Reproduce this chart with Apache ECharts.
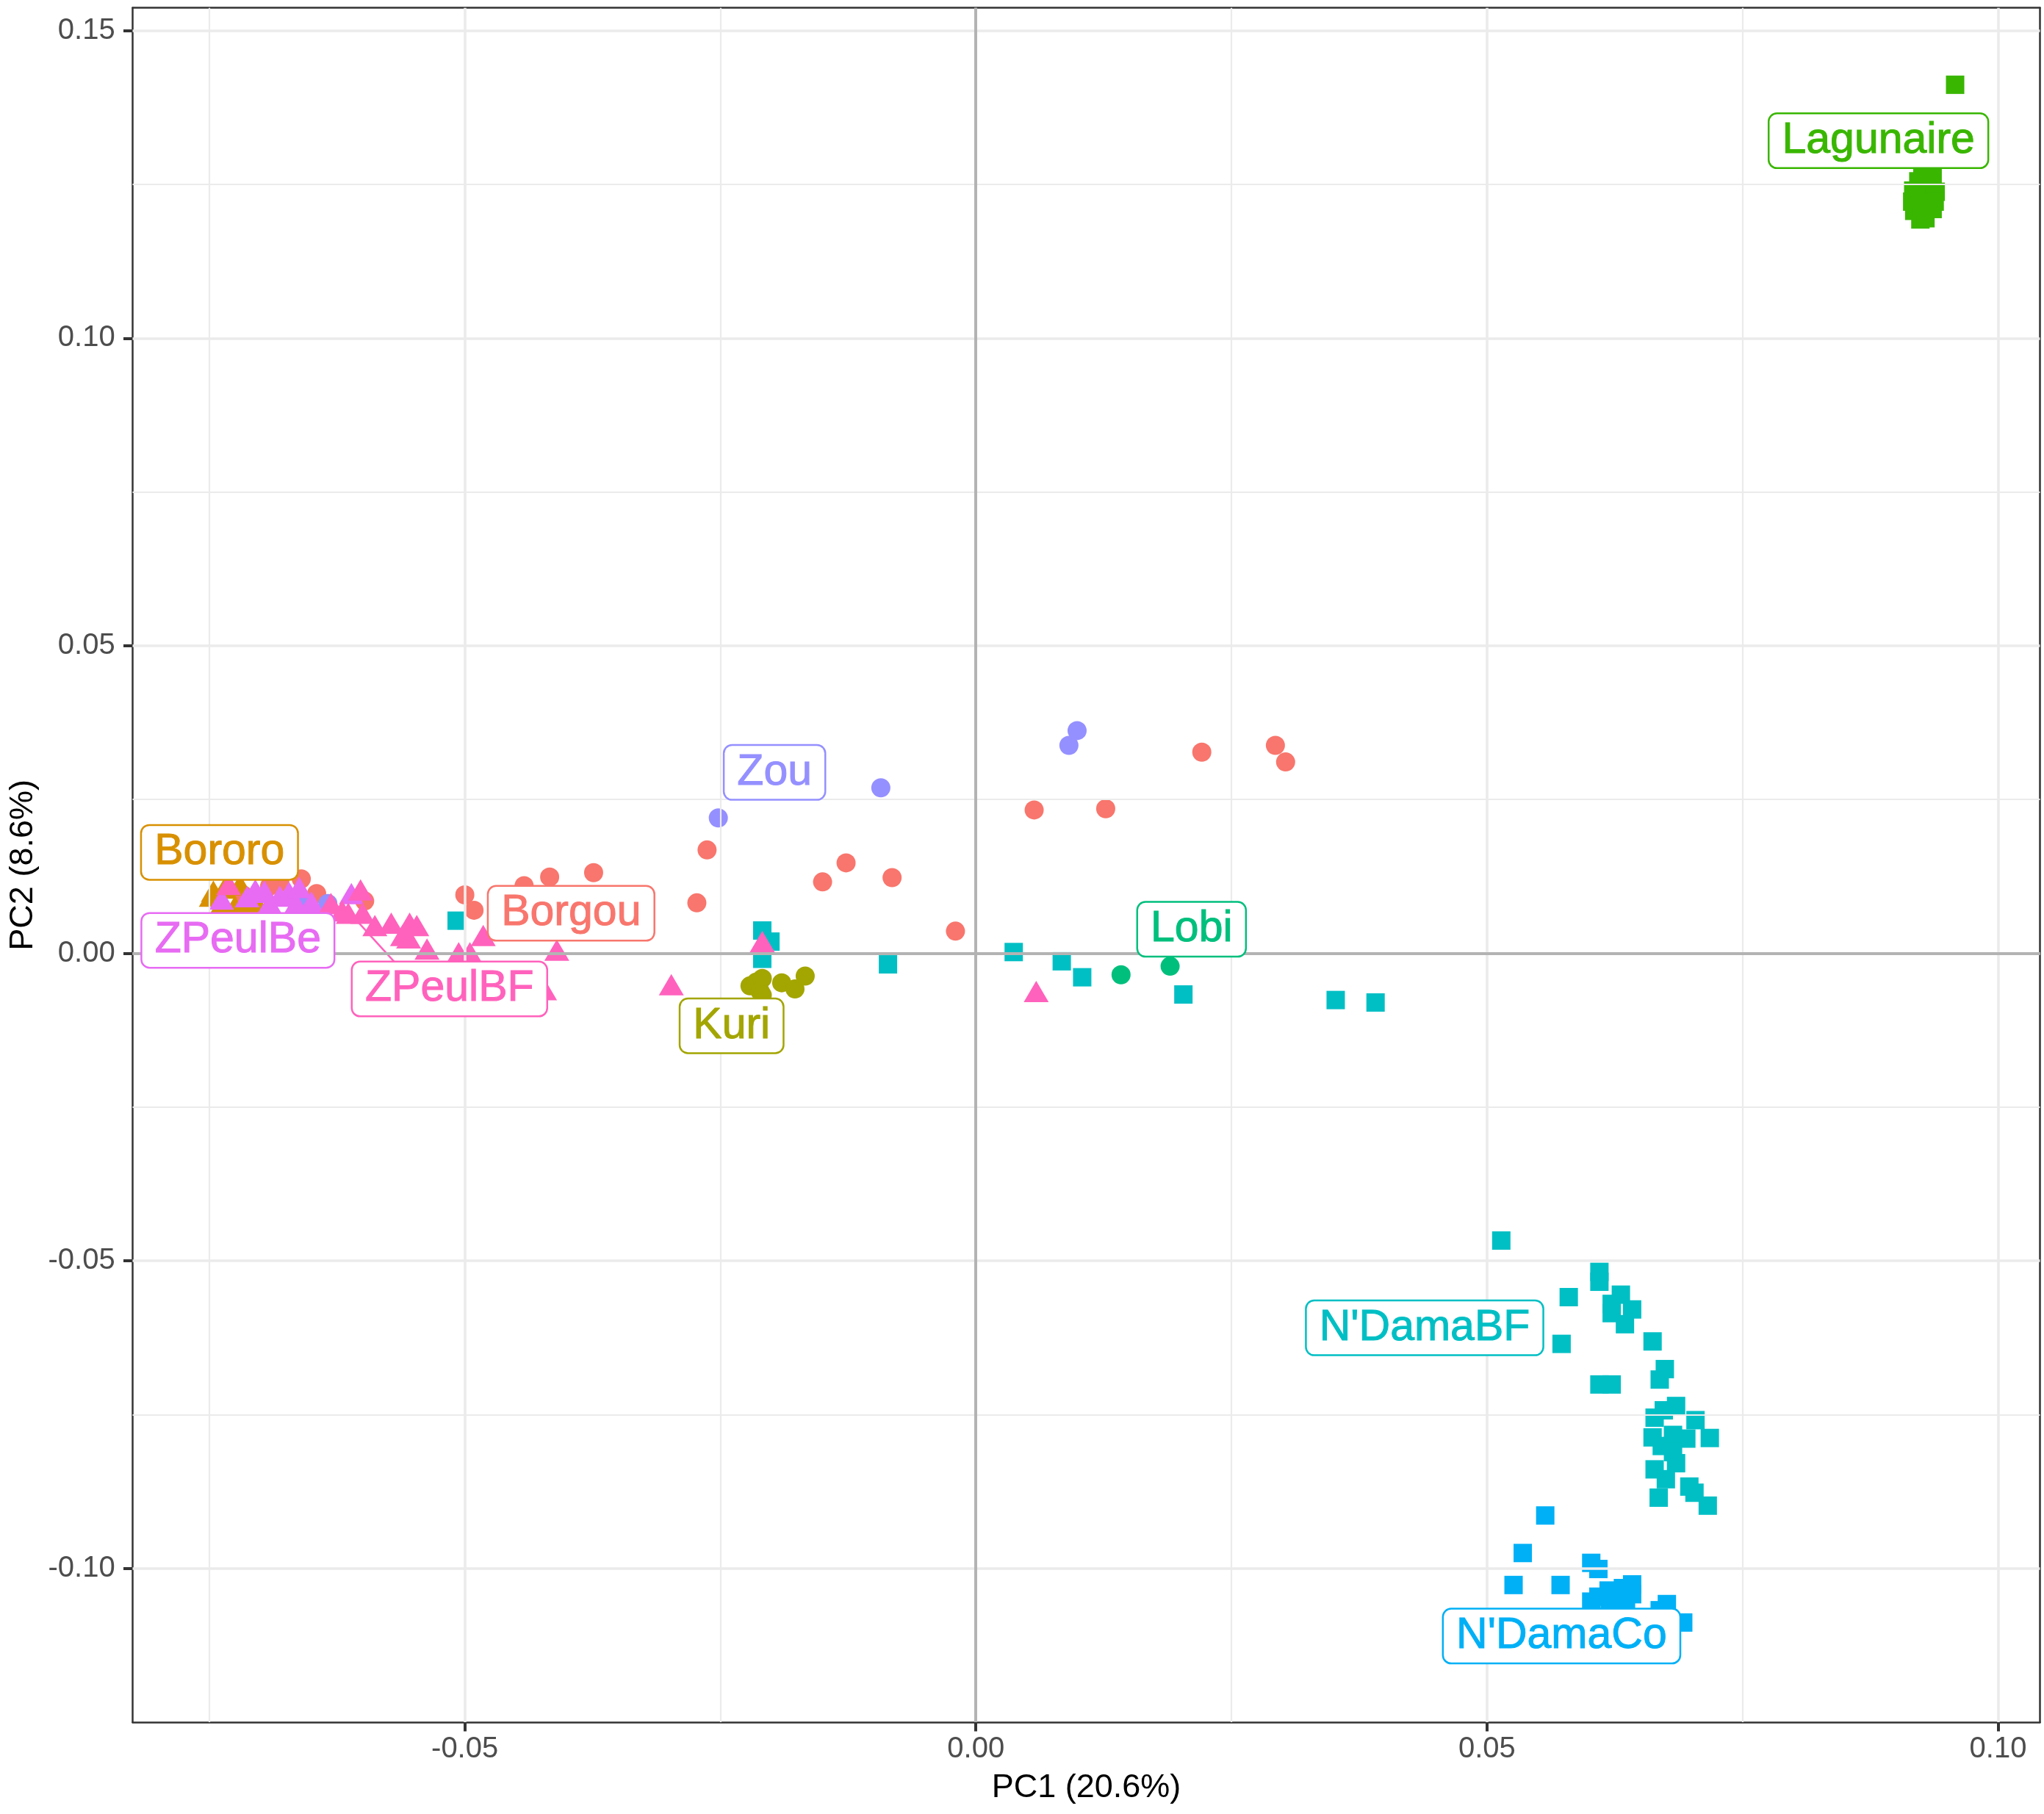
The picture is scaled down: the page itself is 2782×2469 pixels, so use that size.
<!DOCTYPE html>
<html>
<head>
<meta charset="utf-8">
<script src="https://cdn.jsdelivr.net/npm/echarts@6/dist/echarts.min.js"></script>
<style>
  body { margin: 0; background: #fff; }
  #main { width: 2782px; height: 2469px; }
</style>
</head>
<body>
<div id="main"></div>
<script>
// groups, in ggplot's hue order
var groups = ['Borgou', 'Bororo', 'Kuri', 'Lagunaire', 'Lobi', "N'DamaBF", "N'DamaCo", 'Zou', 'ZPeulBe', 'ZPeulBF']
var colors = ['#F8766D', '#D89000', '#A3A500', '#39B600', '#00BF7D', '#00BFC4', '#00B0F6', '#9590FF', '#E76BF3', '#FF62BC']
var shapes = ['circle', 'triangle', 'circle', 'rect', 'circle', 'rect', 'rect', 'circle', 'triangle', 'triangle']

// [PC1, PC2] per individual
var borgou = [[-0.0660, 0.0121], [-0.0681, 0.0115], [-0.0717, 0.0095], [-0.0645, 0.0097], [-0.0598, 0.0085],
  [-0.0691, 0.0109], [-0.0500, 0.0095], [-0.0491, 0.0070], [-0.0442, 0.0110], [-0.0417, 0.0124],
  [-0.0374, 0.0131], [-0.0273, 0.0082], [-0.0263, 0.0168], [-0.0150, 0.0116], [-0.0127, 0.0147],
  [-0.0082, 0.0123], [-0.0020, 0.0036], [0.0057, 0.0233], [0.0127, 0.0235], [0.0221, 0.0327],
  [0.0293, 0.0338], [0.0303, 0.0311]]
var bororo = [[-0.0748, 0.0093], [-0.0725, 0.0076], [-0.0720, 0.0111], [-0.0735, 0.0106], [-0.0712, 0.0077],
  [-0.0738, 0.0079], [-0.0746, 0.0101], [-0.0703, 0.0080]]
var kuri = [[-0.0221, -0.0053], [-0.0215, -0.0047], [-0.0209, -0.0041], [-0.0211, -0.0062], [-0.0209, -0.0068],
  [-0.0190, -0.0048], [-0.0177, -0.0058], [-0.0167, -0.0037]]
var lagunaire = [[0.0958, 0.1412], [0.0917, 0.1240], [0.0916, 0.1222], [0.0918, 0.1207], [0.0924, 0.1193],
  [0.0929, 0.1195], [0.0925, 0.1215], [0.0930, 0.1230], [0.0935, 0.1245], [0.0939, 0.1238],
  [0.0938, 0.1222], [0.0936, 0.1210], [0.0922, 0.1255], [0.0928, 0.1262], [0.0934, 0.1260],
  [0.0920, 0.1230], [0.0933, 0.1218], [0.0926, 0.1268], [0.0936, 0.1266]]
var lobi = [[0.0142, -0.0035], [0.0190, -0.0021]]
var ndamaBF = [[-0.0508, 0.0053], [-0.0209, 0.0037], [-0.0201, 0.0019], [-0.0209, -0.0009], [-0.0086, -0.0018],
  [0.0037, 0.0002], [0.0084, -0.0013], [0.0104, -0.0039], [0.0203, -0.0067], [0.0352, -0.0076],
  [0.0391, -0.0080],
  [0.0514, -0.0467], [0.0610, -0.0518], [0.0610, -0.0534], [0.0580, -0.0559], [0.0631, -0.0555],
  [0.0622, -0.0570], [0.0622, -0.0585], [0.0642, -0.0579], [0.0635, -0.0603], [0.0573, -0.0635],
  [0.0662, -0.0631], [0.0674, -0.0676], [0.0669, -0.0693], [0.0610, -0.0701], [0.0622, -0.0701],
  [0.0685, -0.0736], [0.0673, -0.0743], [0.0664, -0.0755], [0.0704, -0.0759], [0.0662, -0.0787],
  [0.0682, -0.0783], [0.0695, -0.0789], [0.0718, -0.0788], [0.0671, -0.0801], [0.0682, -0.0811],
  [0.0685, -0.0829], [0.0664, -0.0839], [0.0675, -0.0855], [0.0698, -0.0867], [0.0668, -0.0885],
  [0.0703, -0.0877], [0.0716, -0.0898]]
var ndamaCo = [[0.0557, -0.0914], [0.0535, -0.0975], [0.0526, -0.1027], [0.0572, -0.1027], [0.0602, -0.0991],
  [0.0609, -0.1001], [0.0619, -0.1036], [0.0609, -0.1046], [0.0633, -0.1032], [0.0642, -0.1026],
  [0.0642, -0.1042], [0.0602, -0.1054], [0.0636, -0.1062], [0.0676, -0.1058], [0.0669, -0.1068],
  [0.0692, -0.1088], [0.0620, -0.1055], [0.0628, -0.1050]]
var zou = [[-0.0634, 0.0081], [-0.0660, 0.0087], [-0.0252, 0.0220], [-0.0093, 0.0269], [0.0091, 0.0338],
  [0.0099, 0.0362]]
var zpeulBe = [[-0.0738, 0.0088], [-0.0704, 0.0099], [-0.0696, 0.0101], [-0.0681, 0.0093], [-0.0672, 0.0099],
  [-0.0662, 0.0107], [-0.0650, 0.0083], [-0.0713, 0.0092], [-0.0611, 0.0097], [-0.0691, 0.0081],
  [-0.0665, 0.0081], [-0.0705, 0.0103]]
var zpeulBF = [[-0.0731, 0.0112], [-0.0602, 0.0103], [-0.0631, 0.0081], [-0.0614, 0.0065], [-0.0600, 0.0065],
  [-0.0620, 0.0069], [-0.0588, 0.0045], [-0.0572, 0.0049], [-0.0554, 0.0049], [-0.0547, 0.0045],
  [-0.0561, 0.0029], [-0.0555, 0.0025], [-0.0537, 0.0007], [-0.0495, 0.0001], [-0.0506, 0.0001],
  [-0.0482, 0.0029], [-0.0410, 0.0005], [-0.0422, -0.0059], [-0.0298, -0.0051], [-0.0209, 0.0019],
  [0.0059, -0.0062]]

var groupData = [borgou, bororo, kuri, lagunaire, lobi, ndamaBF, ndamaCo, zou, zpeulBe, zpeulBF]

// repelled label centres, and the one leader segment (ZPeulBF)
var labelX = [-0.0396, -0.0740, -0.0239, 0.0883, 0.0211, 0.0439, 0.0573, -0.0197, -0.0722, -0.0515]
var labelY = [0.0065, 0.0164, -0.0118, 0.1321, 0.0039, -0.0609, -0.1110, 0.0294, 0.0021, -0.0058]
var zpeulBFSegment = [[-0.0604, 0.0050], [-0.0569, -0.0014]]

// axis ticks and grid
var xTicks = [-0.05, 0, 0.05, 0.10]
var yTicks = [-0.10, -0.05, 0, 0.05, 0.10, 0.15]
var xMinor = [-0.075, -0.025, 0.025, 0.075]
var yMinor = [-0.075, -0.025, 0.025, 0.075, 0.125]

var FONT = "'Liberation Sans', Arial, Helvetica, sans-serif"

var gridLines = []
xMinor.forEach(function (v) { gridLines.push({ xAxis: v, lineStyle: { color: '#EBEBEB', width: 2.2, type: 'solid' } }) })
yMinor.forEach(function (v) { gridLines.push({ yAxis: v, lineStyle: { color: '#EBEBEB', width: 2.2, type: 'solid' } }) })
xTicks.forEach(function (v) { gridLines.push({ xAxis: v, lineStyle: { color: '#EBEBEB', width: 3.6, type: 'solid' } }) })
yTicks.forEach(function (v) { gridLines.push({ yAxis: v, lineStyle: { color: '#EBEBEB', width: 3.6, type: 'solid' } }) })

var series = []

series.push({
  name: 'grid', type: 'scatter', data: [], z: 1, silent: true,
  markLine: { silent: true, precision: 6, symbol: ['none', 'none'], label: { show: false },
    lineStyle: { type: 'solid' }, data: gridLines }
})
series.push({
  name: 'zero', type: 'scatter', data: [], z: 2, silent: true,
  markLine: { silent: true, precision: 6, symbol: ['none', 'none'], label: { show: false },
    lineStyle: { type: 'solid', color: '#B3B3B3', width: 4 },
    data: [{ xAxis: 0 }, { yAxis: 0 }] }
})

var i
for (i = 0; i < groups.length; i++) {
  series.push({
    name: groups[i],
    type: 'scatter',
    z: 3,
    symbol: shapes[i],
    symbolSize: shapes[i] === 'triangle' ? [34, 29] : (shapes[i] === 'rect' ? 25 : 26),
    itemStyle: { color: colors[i], opacity: 1 },
    data: groupData[i]
  })
}

series.push({
  name: 'segment', type: 'line', z: 4, silent: true,
  symbol: 'none', lineStyle: { color: '#FF62BC', width: 2.5 },
  data: zpeulBFSegment
})

var labelItems = []
for (i = 0; i < groups.length; i++) {
  labelItems.push({
    value: [labelX[i], labelY[i]],
    name: groups[i],
    label: {
      color: colors[i],
      borderColor: colors[i],
      textBorderColor: colors[i]
    }
  })
}
series.push({
  name: 'labels', type: 'scatter', z: 5, silent: true,
  symbolSize: 1,
  itemStyle: { color: 'rgba(0,0,0,0)' },
  label: {
    show: true, position: 'inside', opacity: 1,
    formatter: function (p) { return p.name },
    fontFamily: FONT, fontSize: 59, lineHeight: 44,
    textBorderWidth: 1, textShadowBlur: 0,
    backgroundColor: '#FFFFFF', borderWidth: 2.5, borderRadius: 10,
    padding: [14, 17, 14, 17]
  },
  data: labelItems
})

var frameAxis = {
  axisLine: { show: true, onZero: false, lineStyle: { color: '#333333', width: 2.5 } },
  axisTick: { show: false }, axisLabel: { show: false }, splitLine: { show: false }
}

var myChart = echarts.init(document.getElementById('main'))
myChart.setOption({
  animation: false,
  backgroundColor: '#FFFFFF',
  textStyle: { fontFamily: FONT },
  grid: { left: 180.5, right: 5.5, top: 10.7, bottom: 125, containLabel: false },
  xAxis: [{
    type: 'value', min: -0.0825, max: 0.1041, splitNumber: 4,
    name: 'PC1 (20.6%)', nameLocation: 'middle', nameGap: 67,
    nameTextStyle: { color: '#000000', fontSize: 45, fontFamily: FONT },
    axisLine: { show: true, onZero: false, lineStyle: { color: '#333333', width: 2.5 } },
    axisTick: { show: true, length: 12.5, customValues: xTicks, lineStyle: { color: '#333333', width: 4 } },
    axisLabel: { color: '#4D4D4D', fontSize: 40, fontFamily: FONT, margin: 17, customValues: xTicks,
      formatter: function (v) { return v.toFixed(2) } },
    splitLine: { show: false }
  }, Object.assign({ type: 'value', min: -0.0825, max: 0.1041, position: 'top' }, frameAxis)],
  yAxis: [{
    type: 'value', min: -0.125, max: 0.1537, splitNumber: 5,
    name: 'PC2 (8.6%)', nameLocation: 'middle', nameGap: 126, nameRotate: 90,
    nameTextStyle: { color: '#000000', fontSize: 45, fontFamily: FONT },
    axisLine: { show: true, onZero: false, lineStyle: { color: '#333333', width: 2.5 } },
    axisTick: { show: true, length: 12.5, customValues: yTicks, lineStyle: { color: '#333333', width: 4 } },
    axisLabel: { color: '#4D4D4D', fontSize: 40, fontFamily: FONT, margin: 23.8, customValues: yTicks,
      formatter: function (v) { return v.toFixed(2) } },
    splitLine: { show: false }
  }, Object.assign({ type: 'value', min: -0.125, max: 0.1537, position: 'right' }, frameAxis)],
  series: series
})
</script>
</body>
</html>
